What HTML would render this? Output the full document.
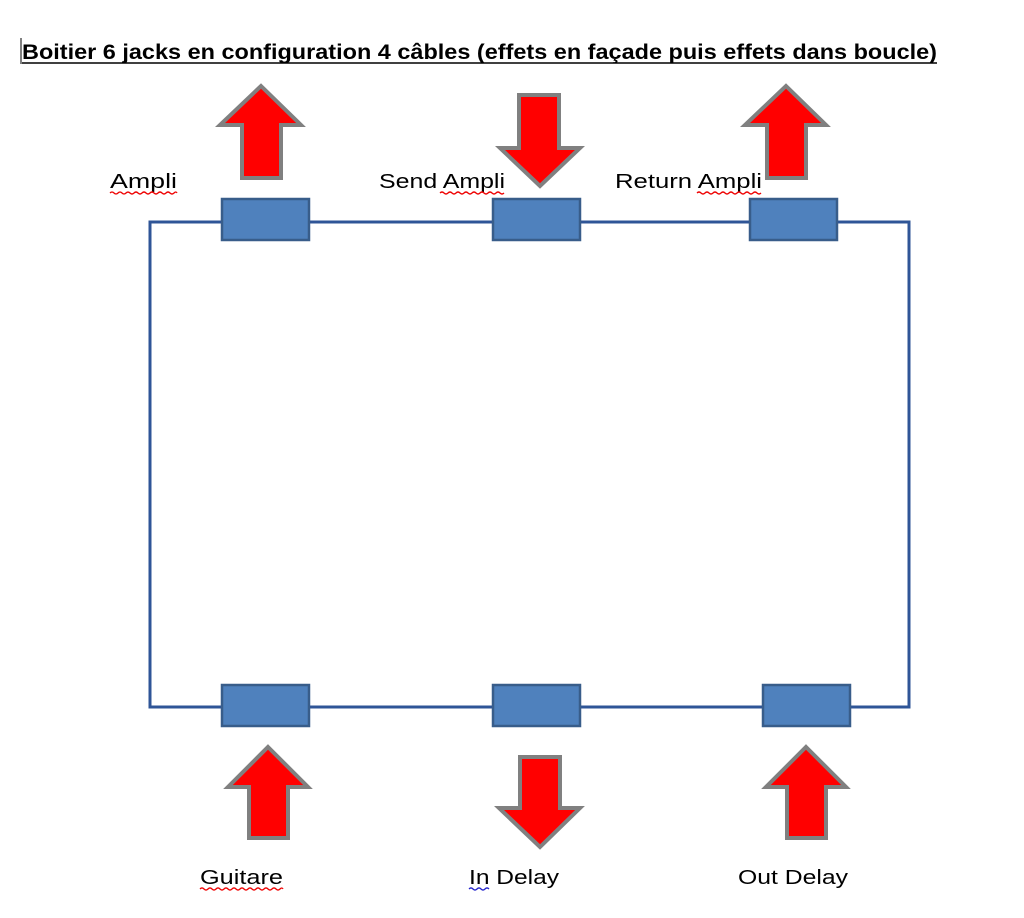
<!DOCTYPE html>
<html><head><meta charset="utf-8"><style>html,body{margin:0;padding:0;background:#fff}svg{display:block}</style></head>
<body>
<svg width="1024" height="918" viewBox="0 0 1024 918" xmlns="http://www.w3.org/2000/svg" font-family="Liberation Sans, sans-serif">
<rect width="1024" height="918" fill="#fff"/>
<text x="22" y="59" font-size="21" font-weight="bold" fill="#000" textLength="915" lengthAdjust="spacingAndGlyphs">Boitier 6 jacks en configuration 4 câbles (effets en façade puis effets dans boucle)</text>
<line x1="22" y1="63" x2="937" y2="63" stroke="#000" stroke-width="1.5"/>
<line x1="21" y1="38" x2="21" y2="64" stroke="#000" stroke-width="1"/>
<rect x="150" y="222" width="759" height="485" fill="none" stroke="#2f5597" stroke-width="3"/>
<g fill="#4f81bd" stroke="#385d8a" stroke-width="2.5">
<rect x="222" y="199" width="87" height="41"/>
<rect x="493" y="199" width="87" height="41"/>
<rect x="750" y="199" width="87" height="41"/>
<rect x="222" y="685" width="87" height="41"/>
<rect x="493" y="685" width="87" height="41"/>
<rect x="763" y="685" width="87" height="41"/>
</g>
<g fill="#ff0000" stroke="#808080" stroke-width="4" stroke-linejoin="miter">
<polygon points="261,86 301,125 281,125 281,178 242,178 242,125 220,125"/>
<polygon points="786,86 826,125 806,125 806,178 767,178 767,125 745,125"/>
<polygon points="519,95 559,95 559,148 580,148 540,186 500,148 519,148"/>
<polygon points="268,747 308,787 288,787 288,838 249,838 249,787 228,787"/>
<polygon points="806,747 846,787 826,787 826,838 787,838 787,787 766,787"/>
<polygon points="520,757 560,757 560,808 580,808 540,847 499,808 520,808"/>
</g>
<g font-size="20" fill="#000">
<text x="110" y="188" textLength="67" lengthAdjust="spacingAndGlyphs">Ampli</text>
<text x="379" y="188" textLength="126" lengthAdjust="spacingAndGlyphs">Send Ampli</text>
<text x="615" y="188" textLength="147" lengthAdjust="spacingAndGlyphs">Return Ampli</text>
<text x="200" y="884" textLength="83" lengthAdjust="spacingAndGlyphs">Guitare</text>
<text x="469" y="884" textLength="90" lengthAdjust="spacingAndGlyphs">In Delay</text>
<text x="738" y="884" textLength="110" lengthAdjust="spacingAndGlyphs">Out Delay</text>
</g>
<g fill="none" stroke-width="1.3">
<path d="M110 193 q2 -2 4 0 t4 0 t4 0 t4 0 t4 0 t4 0 t4 0 t4 0 t4 0 t4 0 t4 0 t4 0 t4 0 t4 0 t4 0 t4 0 t3 0" stroke="#e00"/>
<path d="M440 193 q2 -2 4 0 t4 0 t4 0 t4 0 t4 0 t4 0 t4 0 t4 0 t4 0 t4 0 t4 0 t4 0 t4 0 t4 0 t4 0 t4 0" stroke="#e00"/>
<path d="M697 193 q2 -2 4 0 t4 0 t4 0 t4 0 t4 0 t4 0 t4 0 t4 0 t4 0 t4 0 t4 0 t4 0 t4 0 t4 0 t4 0 t4 0" stroke="#e00"/>
<path d="M200 889 q2 -2 4 0 t4 0 t4 0 t4 0 t4 0 t4 0 t4 0 t4 0 t4 0 t4 0 t4 0 t4 0 t4 0 t4 0 t4 0 t4 0 t4 0 t4 0 t4 0 t4 0 t3 0" stroke="#e00"/>
<path d="M469 889 q2 -2 4 0 t4 0 t4 0 t4 0 t4 0" stroke="#22c"/>
</g>
</svg>
</body></html>
